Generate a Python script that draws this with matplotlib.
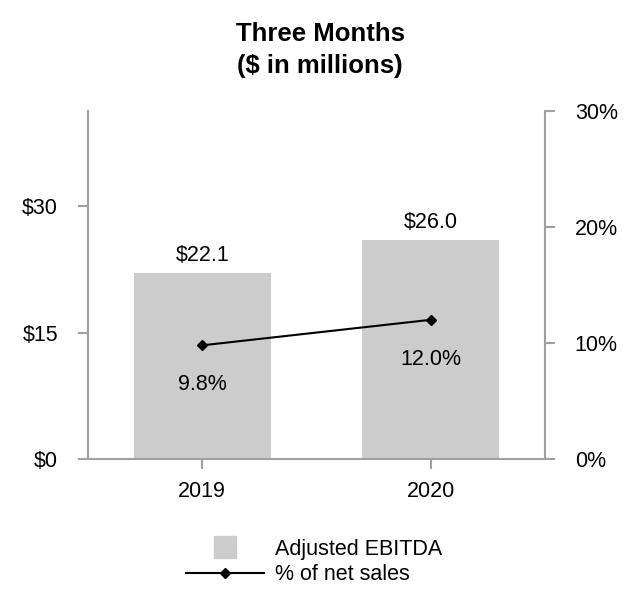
import matplotlib
matplotlib.use("Agg")
import matplotlib.pyplot as plt
from matplotlib.lines import Line2D

plt.rcParams['font.family'] = ['Liberation Sans', 'DejaVu Sans']

years = ["2019", "2020"]
ebitda = [22.1, 26.0]
pct = [9.8, 12.0]
ebitda_labels = ["$22.1", "$26.0"]
pct_labels = ["9.8%", "12.0%"]
left_ticks = [0, 15, 30]
left_ticklabels = ["$0", "$15", "$30"]
right_ticks = [0, 10, 20, 30]
right_ticklabels = ["0%", "10%", "20%", "30%"]

spine_c = '#a0a0a0'
bar_c = '#cccccc'
fs = 15.5

fig = plt.figure(figsize=(6.4, 6.12), dpi=100)
ax = fig.add_axes([88/640, 1-459/612, (545-88)/640, (459-111)/612])
x = list(range(len(years)))
ax.bar(x, ebitda, width=0.6, color=bar_c, zorder=1)
ax.set_xlim(-0.5, 1.5)
ax.set_ylim(0, 41.3)
ax.set_xticks(x)
ax.set_xticklabels(years, fontsize=fs)
ax.set_yticks(left_ticks)
ax.set_yticklabels(left_ticklabels, fontsize=fs)
for s in ['top', 'right']:
    ax.spines[s].set_visible(False)
for s in ['left', 'bottom']:
    ax.spines[s].set_color(spine_c)
    ax.spines[s].set_linewidth(1.5)
ax.tick_params(axis='y', length=7.5, width=1.5, color=spine_c, pad=14)
ax.tick_params(axis='x', length=7.5, width=1.5, color=spine_c, pad=8)

for xi, v, lab in zip(x, ebitda, ebitda_labels):
    ax.annotate(lab, (xi, v), xytext=(0, 5), textcoords='offset points',
                ha='center', va='bottom', fontsize=fs)

ax2 = ax.twinx()
ax2.plot(x, pct, color='black', lw=1.5, marker='D', markersize=5, zorder=3)
ax2.set_ylim(0, 30)
ax2.set_yticks(right_ticks)
ax2.set_yticklabels(right_ticklabels, fontsize=fs)
for s in ['top', 'left', 'bottom']:
    ax2.spines[s].set_visible(False)
ax2.spines['right'].set_color(spine_c)
ax2.spines['right'].set_linewidth(1.5)
ax2.tick_params(axis='y', length=7.5, width=1.5, color=spine_c, pad=14)

for xi, v, lab in zip(x, pct, pct_labels):
    ax2.annotate(lab, (xi, v), xytext=(0, -28.5), textcoords='offset points',
                 ha='center', va='center', fontsize=fs)

fig.text(0.5, 1-41/612, "Three Months", ha='center', va='baseline',
         fontsize=18.5, fontweight='bold')
fig.text(0.5, 1-73/612, "($ in millions)", ha='center', va='baseline',
         fontsize=18.5, fontweight='bold')

handles = [
    Line2D([], [], marker='s', markersize=15.5, color=bar_c, linestyle='none'),
    Line2D([], [], color='black', lw=1.5, marker='D', markersize=5),
]
leg = fig.legend(handles, ["Adjusted EBITDA", "% of net sales"],
                 loc='center left', bbox_to_anchor=(186/640, 1-562/612),
                 frameon=False, fontsize=fs, handlelength=3.6,
                 handletextpad=0.55, labelspacing=0.2, borderpad=0,
                 borderaxespad=0)

fig.savefig("out.png", dpi=100)
